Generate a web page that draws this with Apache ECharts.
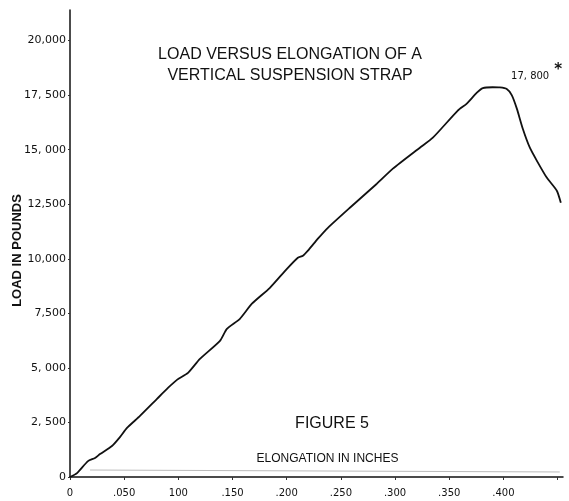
<!DOCTYPE html>
<html>
<head>
<meta charset="utf-8">
<script src="https://cdn.jsdelivr.net/npm/echarts@6/dist/echarts.min.js"></script>
<style>
  html, body { margin: 0; padding: 0; background: #fff; }
  #chart { width: 569px; height: 501px; }
</style>
</head>
<body>
<div id="chart"></div>
<script>
// elongation (inches) vs load (pounds)
const elongation = [0, 0.0065, 0.0166, 0.0231, 0.0277, 0.0387, 0.0461, 0.0526, 0.0646, 0.0803,
  0.0904, 0.0987, 0.1089, 0.1199, 0.1384, 0.1448, 0.1568, 0.1679, 0.1845, 0.2002,
  0.2103, 0.2150, 0.2196, 0.2288, 0.2380, 0.2583, 0.2832, 0.2980, 0.3229, 0.3349,
  0.3579, 0.3662, 0.3755, 0.3810, 0.3900, 0.3967, 0.4031, 0.4077, 0.4124, 0.4179,
  0.4244, 0.4308, 0.4400, 0.4493, 0.4530]
const load = [0, 180, 730, 870, 1050, 1420, 1830, 2250, 2800, 3580,
  4080, 4450, 4770, 5410, 6240, 6790, 7250, 7940, 8670, 9540,
  10050, 10140, 10370, 10920, 11420, 12340, 13440, 14130, 15090, 15550,
  16790, 17110, 17610, 17820, 17860, 17850, 17780, 17500, 16880, 15960,
  15090, 14500, 13720, 13120, 12570]

// faint recorder baseline just above the axis
const baselineX = [0.0185, 0.452]
const baselineY = [320, 230]

const xTickLabels = ['0', '.050', '100', '.150', '.200', '.250', '.300', '.350', '.400']
const yTickLabels = ['0', '2, 500', '5, 000', '7,500', '10,000', '12,500', '15, 000', '17, 500', '20,000']
const peakLabel = '17, 800'

const font = 'DejaVu Sans'

const chart = echarts.init(document.getElementById('chart'))

const option = {
  backgroundColor: '#fff',
  animation: false,
  title: [
    {
      text: 'LOAD VERSUS ELONGATION OF A\nVERTICAL SUSPENSION STRAP',
      left: 285,
      top: 39,
      textAlign: 'center',
      textStyle: {
        fontFamily: 'Liberation Sans',
        fontSize: 16,
        fontWeight: 'normal',
        lineHeight: 21,
        color: '#111'
      }
    },
    {
      text: 'FIGURE 5',
      left: 327,
      top: 411,
      textAlign: 'center',
      textStyle: {
        fontFamily: 'Liberation Sans',
        fontSize: 16,
        fontWeight: 'normal',
        color: '#111'
      }
    }
  ],
  grid: {
    left: 70,
    right: 6,
    top: 10,
    bottom: 24,
    outerBoundsMode: 'none'
  },
  xAxis: {
    type: 'value',
    min: 0,
    max: 0.455,
    interval: 0.05,
    name: 'ELONGATION IN INCHES',
    nameLocation: 'middle',
    nameGap: -24,
    nameMoveOverlap: false,
    nameTextStyle: {
      fontFamily: 'Liberation Sans',
      fontSize: 12,
      color: '#111',
      padding: [0, 0, 0, 22]
    },
    splitLine: { show: false },
    axisLine: { lineStyle: { color: '#111', width: 1.5 } },
    axisTick: { length: 3, lineStyle: { color: '#333' } },
    axisLabel: {
      showMaxLabel: false,
      margin: 11,
      fontFamily: font,
      fontSize: 10,
      color: '#111',
      formatter: (v) => xTickLabels[Math.round(v / 0.05)] || ''
    }
  },
  yAxis: {
    type: 'value',
    min: 0,
    max: 21400,
    interval: 2500,
    name: 'LOAD IN POUNDS',
    nameLocation: 'middle',
    nameRotate: 90,
    nameGap: 46,
    nameMoveOverlap: false,
    nameTextStyle: {
      fontFamily: 'Liberation Sans',
      fontSize: 13,
      fontWeight: 'bold',
      color: '#111',
      padding: [0, 14, 0, 0]
    },
    splitLine: { show: false },
    axisLine: { lineStyle: { color: '#111', width: 1.5 } },
    axisTick: { length: 2, lineStyle: { color: '#333' } },
    axisLabel: {
      showMaxLabel: false,
      margin: 4,
      fontFamily: font,
      fontSize: 11,
      color: '#111',
      formatter: (v) => yTickLabels[Math.round(v / 2500)] || ''
    }
  },
  series: [
    {
      type: 'line',
      data: baselineX.map((x, i) => [x, baselineY[i]]),
      symbol: 'none',
      silent: true,
      lineStyle: { color: '#bbb', width: 1 }
    },
    {
      type: 'line',
      data: elongation.map((x, i) => [x, load[i]]),
      symbol: 'none',
      smooth: 0.2,
      lineStyle: { color: '#111', width: 1.8 },
      markPoint: {
        symbol: 'circle',
        symbolSize: 0,
        data: [{ type: 'max' }],
        label: {
          show: true,
          position: 'inside',
          offset: [44, -11],
          formatter: `{a|${peakLabel}}{b|*}`,
          rich: {
            a: { fontFamily: font, fontSize: 10, color: '#111' },
            b: { fontFamily: font, fontSize: 15, fontWeight: 'bold', color: '#111', padding: [0, 0, 12, 5] }
          }
        }
      }
    }
  ]
}

chart.setOption(option)
</script>
</body>
</html>
